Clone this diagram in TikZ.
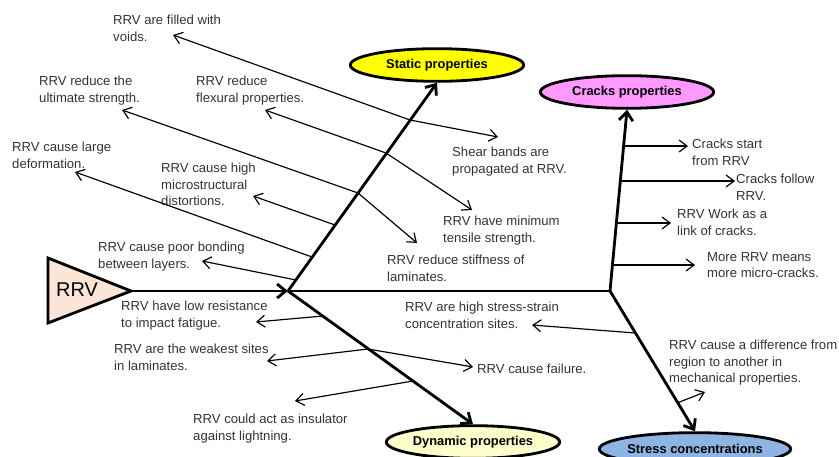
\documentclass[tikz,border=0pt]{standalone}
\usepackage{fontspec}
\setmainfont{Liberation Sans}
\usetikzlibrary{shapes.geometric,arrows.meta}
\definecolor{rrvfill}{HTML}{FBE5D6}
\definecolor{staticfill}{HTML}{FFFF00}
\definecolor{crackfill}{HTML}{FF99FF}
\definecolor{dynfill}{HTML}{FFFFCC}
\definecolor{stressfill}{HTML}{8DB4E2}
\begin{document}
\begin{tikzpicture}[x=0.03cm, y=-0.03cm,
note/.style={anchor=north west, inner sep=0pt, align=left, text=black!80, font=\fontsize{11.2}{14}\selectfont},
twig/.style={-{Straight Barb[length=2.4mm,width=3.6mm]}, line width=1pt},
bone/.style={line width=2.4pt},
bonetip/.style={bone, -{Straight Barb[length=2.6mm,width=4.2mm]}},
catbox/.style={ellipse, draw, line width=2.4pt, minimum width=5.2cm, minimum height=0.98cm, inner sep=0pt, font=\bfseries\fontsize{11}{13}\selectfont}]
\useasboundingbox (0,0) rectangle (839,457);
\draw[bone, fill=rrvfill] (48,258) -- (131,291) coordinate (tip) -- (48,323) -- cycle;
\node[font=\fontsize{17}{20}\selectfont] (rrv) at (77,290) {RRV};
\coordinate (j1) at (288,291);
\coordinate (j2) at (610,291);
\node[catbox, fill=staticfill] (static) at (437,65) {Static properties};
\node[catbox, fill=crackfill] (cracks) at (627,92) {Cracks properties};
\node[catbox, fill=dynfill] (dyn) at (473,442) {Dynamic properties};
\node[catbox, fill=stressfill, minimum width=5.4cm] (stress) at (695,449) {Stress concentrations};
\draw[bonetip] (tip) -- (j1);
\draw[bone] (j1) -- (j2);
\draw[bonetip] (j1) -- (static.south);
\draw[bonetip] (j1) -- (dyn.north);
\draw[bonetip] (j2) -- (cracks.south);
\draw[bonetip] (j2) -- (stress.north);
\node[note] (voids) at (113,15) {RRV are filled with\\voids.};
\node[note] (ultimate) at (39,76) {RRV reduce the\\ultimate strength.};
\node[note] (flexural) at (196,76) {RRV reduce\\flexural properties.};
\node[note] (deform) at (12,142) {RRV cause large\\deformation.};
\node[note] (distort) at (161,163) {RRV cause high\\microstructural\\distortions.};
\node[note] (bonding) at (98,242) {RRV cause poor bonding\\between layers.};
\node[note] (fatigue) at (121,301) {RRV have low resistance\\to impact fatigue.};
\node[note] (weakest) at (114,344) {RRV are the weakest sites\\in laminates.};
\node[note] (lightning) at (193,414) {RRV could act as insulator\\against lightning.};
\node[note] (shear) at (452,147) {Shear bands are\\propagated at RRV.};
\node[note] (tensile) at (443,216) {RRV have minimum\\tensile strength.};
\node[note] (stiffness) at (387,255) {RRV reduce stiffness of\\laminates.};
\node[note] (sites) at (405,302) {RRV are high stress-strain\\concentration sites.};
\node[note] (failure) at (477,364) {RRV cause failure.};
\node[note] (start) at (692,139) {Cracks start\\from RRV};
\node[note] (follow) at (736,174) {Cracks follow\\RRV.};
\node[note] (link) at (677,209) {RRV Work as a\\link of cracks.};
\node[note] (micro) at (707,252) {More RRV means\\more micro-cracks.};
\node[note] (differ) at (669,340) {RRV cause a difference from\\region to another in\\mechanical properties.};
\coordinate (s1) at (410,120);
\coordinate (s2) at (386,153);
\coordinate (s3) at (358,193);
\coordinate (s4) at (335,225);
\coordinate (s5) at (312,257);
\coordinate (s6) at (296,280);
\coordinate (d1) at (323,316);
\coordinate (d2) at (368,349);
\coordinate (d3) at (413,381);
\coordinate (c1) at (624,146);
\coordinate (c2) at (620,181);
\coordinate (c3) at (616,223);
\coordinate (c4) at (612,265);
\coordinate (r1) at (635,333);
\coordinate (r2) at (677,403);
\coordinate (tvoids) at (173,35);
\coordinate (tshear) at (498,137);
\coordinate (tflex) at (265,110);
\coordinate (ttens) at (472,210);
\coordinate (tult) at (122,110);
\coordinate (tstiff) at (417,243);
\coordinate (tdist) at (253,196);
\coordinate (tdef) at (75,172);
\coordinate (tbond) at (202,261);
\coordinate (tfat) at (256,322);
\coordinate (tweak) at (267,361);
\coordinate (tfail) at (473,367);
\coordinate (tlight) at (295,401);
\coordinate (tstart) at (688,146);
\coordinate (tfollow) at (735,181);
\coordinate (tlink) at (671,223);
\coordinate (tmicro) at (695,265);
\coordinate (tsites) at (532,325);
\coordinate (tdiff) at (705,392);
\draw[twig] (s1) -- (tvoids);
\draw[twig] (s1) -- (tshear);
\draw[twig] (s2) -- (tflex);
\draw[twig] (s2) -- (ttens);
\draw[twig] (s3) -- (tult);
\draw[twig] (s3) -- (tstiff);
\draw[twig] (s4) -- (tdist);
\draw[twig] (s5) -- (tdef);
\draw[twig] (s6) -- (tbond);
\draw[twig] (d1) -- (tfat);
\draw[twig] (d2) -- (tweak);
\draw[twig] (d2) -- (tfail);
\draw[twig] (d3) -- (tlight);
\draw[twig] (c1) -- (tstart);
\draw[twig] (c2) -- (tfollow);
\draw[twig] (c3) -- (tlink);
\draw[twig] (c4) -- (tmicro);
\draw[twig] (r1) -- (tsites);
\draw[twig] (r2) -- (tdiff);
\end{tikzpicture}
\end{document}
